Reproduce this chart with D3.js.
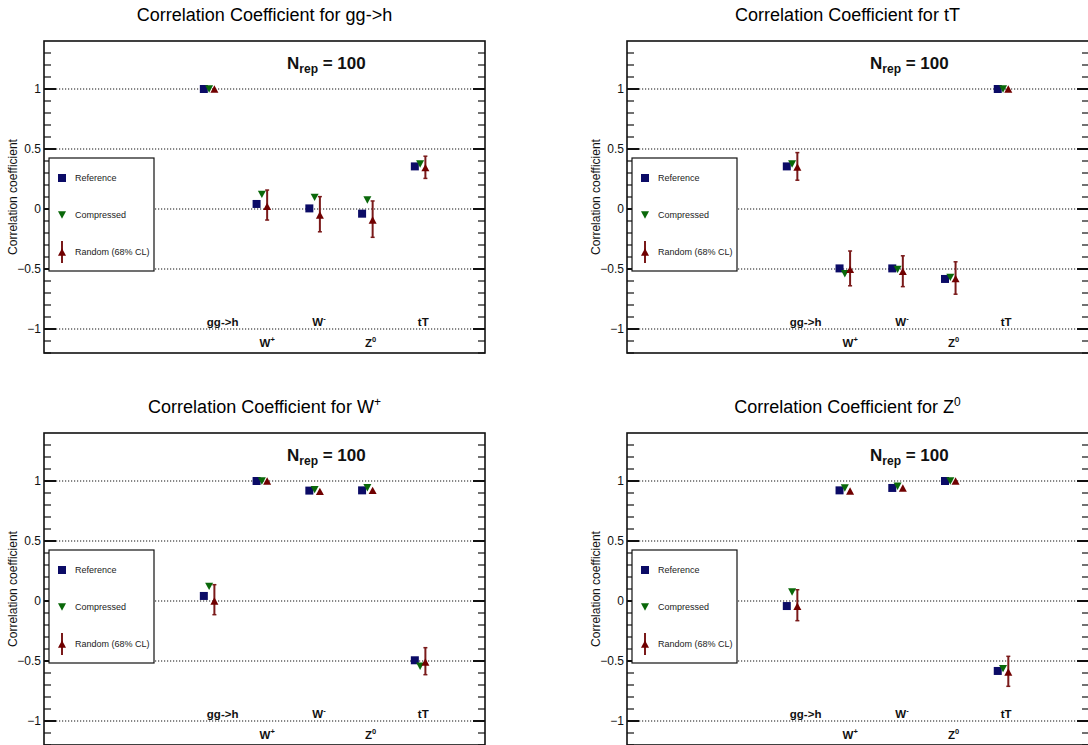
<!DOCTYPE html>
<html>
<head>
<meta charset="utf-8">
<script src="https://cdn.jsdelivr.net/npm/d3@7/dist/d3.min.js"></script>
<style>
  html, body { margin: 0; padding: 0; background: #fff; }
  svg { display: block; font-family: "Liberation Sans", Arial, Helvetica, sans-serif; }
</style>
</head>
<body>
<svg id="chart" width="1088" height="745"></svg>
<script>
// ---------------- data ----------------
const categories = ["gg->h", "W+", "W-", "Z0", "tT"];
const categoryBase = ["gg->h", "W", "W", "Z", "tT"];
const categorySup = ["", "+", "-", "0", ""];

const panelBase = ["Correlation Coefficient for gg->h", "Correlation Coefficient for tT",
                   "Correlation Coefficient for W", "Correlation Coefficient for Z"];
const panelSup = ["", "", "+", "0"];

const yTicks = [-1, -0.5, 0, 0.5, 1];
const yTickLabels = ["\u22121", "\u22120.5", "0", "0.5", "1"];

const legendLabels = ["Reference", "Compressed", "Random (68% CL)"];
const nrepValue = 100;

// per panel (gg->h, tT, W+, Z0), values for categories gg->h, W+, W-, Z0, tT
const reference = [
  [1, 0.042, 0.005, -0.039, 0.355],
  [0.355, -0.495, -0.495, -0.583, 1],
  [0.042, 1, 0.92, 0.922, -0.494],
  [-0.042, 0.922, 0.942, 1, -0.583]
];
const compressed = [
  [1, 0.122, 0.097, 0.075, 0.375],
  [0.375, -0.54, -0.503, -0.57, 1],
  [0.122, 1, 0.928, 0.944, -0.544],
  [0.075, 0.942, 0.956, 1, -0.564]
];
const random = [
  [1, 0.022, -0.05, -0.092, 0.345],
  [0.35, -0.503, -0.52, -0.58, 1],
  [0.0, 1, 0.914, 0.922, -0.508],
  [-0.044, 0.917, 0.942, 1, -0.592]
];
const randomLow = [
  [1, -0.092, -0.19, -0.236, 0.255],
  [0.24, -0.64, -0.647, -0.71, 1],
  [-0.114, 1, 0.914, 0.922, -0.614],
  [-0.164, 0.917, 0.942, 1, -0.711]
];
const randomHigh = [
  [1, 0.158, 0.103, 0.067, 0.44],
  [0.47, -0.35, -0.39, -0.44, 1],
  [0.136, 1, 0.914, 0.922, -0.389],
  [0.094, 0.917, 0.942, 1, -0.461]
];

// ---------------- layout ----------------
const colRef = "#0b0b66", colComp = "#0a680a", colRand = "#700000", colErr = "#7a1a1a";
const frames = [
  {x: 44, y: 41, w: 441, h: 312, xmax: 5.33},
  {x: 627, y: 41, w: 462, h: 312, xmax: 5.73},
  {x: 44, y: 433, w: 441, h: 312, xmax: 5.33},
  {x: 627, y: 433, w: 462, h: 312, xmax: 5.73}
];
const xmin = -3.03;
const offsets = [0, 0.1, 0.2];
const msize = 8;

const svg = d3.select("#chart");
svg.append("rect").attr("width", 1088).attr("height", 745).attr("fill", "#fff");

const sqSym = d3.symbol().type(d3.symbolSquare).size(msize * msize);
const triSize = msize * msize * 0.45;
function triUp(cx, cy, s) {
  const h = s * 0.92;
  return `M${cx - s / 2},${cy + h / 2}L${cx + s / 2},${cy + h / 2}L${cx},${cy - h / 2}Z`;
}
function triDown(cx, cy, s) {
  const h = s * 0.92;
  return `M${cx - s / 2},${cy - h / 2}L${cx + s / 2},${cy - h / 2}L${cx},${cy + h / 2}Z`;
}

frames.forEach((f, p) => {
  const g = svg.append("g");
  const x = d3.scaleLinear().domain([xmin, f.xmax]).range([f.x, f.x + f.w]);
  const y = d3.scaleLinear().domain([-1.2, 1.4]).range([f.y + f.h, f.y]);

  // title
  const t = g.append("text")
    .attr("x", f.x + 220.5).attr("y", f.y - 20)
    .attr("text-anchor", "middle").attr("font-size", 18).attr("fill", "#000");
  t.append("tspan").text(panelBase[p]);
  if (panelSup[p]) t.append("tspan").attr("dy", -7).attr("font-size", 12).text(panelSup[p]);

  // grid lines (dotted)
  g.selectAll(".grid").data(yTicks).enter().append("line")
    .attr("x1", f.x).attr("x2", f.x + f.w)
    .attr("y1", d => y(d)).attr("y2", d => y(d))
    .attr("stroke", "#111").attr("stroke-width", 1.2)
    .attr("stroke-dasharray", "1.2,1.8");

  // minor ticks
  const minor = d3.range(-12, 14).map(v => v / 10).filter(v => Math.abs(Math.round(v * 2) - v * 2) > 1e-6);
  g.selectAll(".minL").data(minor).enter().append("line")
    .attr("x1", f.x).attr("x2", f.x + 7)
    .attr("y1", d => y(d)).attr("y2", d => y(d))
    .attr("stroke", "#111").attr("stroke-width", 1.2);
  g.selectAll(".minR").data(minor).enter().append("line")
    .attr("x1", f.x + f.w).attr("x2", f.x + f.w - 7)
    .attr("y1", d => y(d)).attr("y2", d => y(d))
    .attr("stroke", "#111").attr("stroke-width", 1.2);
  // major ticks
  g.selectAll(".majL").data(yTicks).enter().append("line")
    .attr("x1", f.x).attr("x2", f.x + 12)
    .attr("y1", d => y(d)).attr("y2", d => y(d))
    .attr("stroke", "#111").attr("stroke-width", 2);
  g.selectAll(".majR").data(yTicks).enter().append("line")
    .attr("x1", f.x + f.w).attr("x2", f.x + f.w - 12)
    .attr("y1", d => y(d)).attr("y2", d => y(d))
    .attr("stroke", "#111").attr("stroke-width", 2);

  // tick labels
  g.selectAll(".tl").data(yTicks).enter().append("text")
    .attr("x", f.x - 3).attr("y", d => y(d)).attr("dy", "0.36em")
    .attr("text-anchor", "end").attr("font-size", 12).attr("fill", "#111")
    .text((d, i) => yTickLabels[i]);

  // axis title
  g.append("text")
    .attr("transform", `translate(${f.x - 27},${f.y + f.h / 2}) rotate(-90)`)
    .attr("text-anchor", "middle").attr("font-size", 12).attr("fill", "#111")
    .text("Correlation coefficient");

  // frame
  g.append("rect").attr("x", f.x).attr("y", f.y).attr("width", f.w).attr("height", f.h)
    .attr("fill", "none").attr("stroke", "#111").attr("stroke-width", 1.6);

  // category labels
  categories.forEach((c, i) => {
    const ty = (i % 2 === 0) ? y(-1) - 3 : y(-1) + 18;
    const lt = g.append("text").attr("x", x(i) + 3).attr("y", ty)
      .attr("font-size", 11.5).attr("font-weight", "bold").attr("fill", "#111");
    lt.append("tspan").text(categoryBase[i]);
    if (categorySup[i]) lt.append("tspan").attr("dy", -5).attr("font-size", 7.5).text(categorySup[i]);
  });

  // Nrep label
  const nt = g.append("text").attr("x", f.x + 243).attr("y", f.y + 28)
    .attr("font-size", 17).attr("font-weight", "bold").attr("fill", "#111");
  nt.append("tspan").text("N");
  nt.append("tspan").attr("dy", 4).attr("font-size", 12).text("rep");
  nt.append("tspan").attr("dy", -4).text(" = " + nrepValue);

  // error bars of random
  categories.forEach((c, i) => {
    const cx = x(i + offsets[2]);
    const lo = randomLow[p][i], hi = randomHigh[p][i];
    if (Math.abs(hi - lo) < 1e-6) return;
    g.append("line").attr("x1", cx).attr("x2", cx).attr("y1", y(lo)).attr("y2", y(hi))
      .attr("stroke", colErr).attr("stroke-width", 2);
    [lo, hi].forEach(v => g.append("line").attr("x1", cx - 2).attr("x2", cx + 2)
      .attr("y1", y(v)).attr("y2", y(v)).attr("stroke", colErr).attr("stroke-width", 1.5));
  });

  // markers
  g.selectAll(".ref").data(reference[p]).enter().append("path")
    .attr("d", sqSym).attr("transform", (d, i) => `translate(${x(i + offsets[0])},${y(d)})`)
    .attr("fill", colRef);
  g.selectAll(".comp").data(compressed[p]).enter().append("path")
    .attr("d", (d, i) => triDown(x(i + offsets[1]), y(d), msize))
    .attr("fill", colComp);
  g.selectAll(".rand").data(random[p]).enter().append("path")
    .attr("d", (d, i) => triUp(x(i + offsets[2]), y(d), msize))
    .attr("fill", colRand);

  // legend
  const lx = f.x + 5, ly = f.y + 117, lw = 105, lh = 113;
  g.append("rect").attr("x", lx).attr("y", ly).attr("width", lw).attr("height", lh)
    .attr("fill", "#fff").attr("stroke", "#111").attr("stroke-width", 1.2);
  const rows = [ly + 20, ly + 57, ly + 94];
  g.append("path").attr("d", sqSym).attr("transform", `translate(${lx + 13},${rows[0]})`).attr("fill", colRef);
  g.append("path").attr("d", triDown(lx + 13, rows[1], msize)).attr("fill", colComp);
  g.append("line").attr("x1", lx + 13).attr("x2", lx + 13).attr("y1", rows[2] - 11).attr("y2", rows[2] + 11)
    .attr("stroke", colErr).attr("stroke-width", 2);
  g.append("path").attr("d", triUp(lx + 13, rows[2], msize)).attr("fill", colRand);
  legendLabels.forEach((l, i) => g.append("text").attr("x", lx + 26).attr("y", rows[i]).attr("dy", "0.35em")
    .attr("font-size", 9).attr("fill", "#222").text(l));
});
</script>
</body>
</html>
